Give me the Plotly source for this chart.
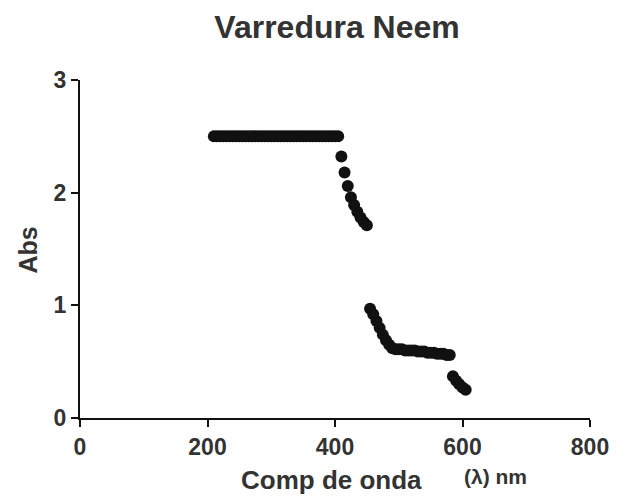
import plotly.graph_objects as go

# Wavelength (nm) and absorbance
wavelength = [
    210, 215, 220, 225, 230, 235, 240, 245, 250, 255,
    260, 265, 270, 275, 280, 285, 290, 295, 300, 305,
    310, 315, 320, 325, 330, 335, 340, 345, 350, 355,
    360, 365, 370, 375, 380, 385, 390, 395, 400, 405,
    410, 415, 420, 425, 430, 435, 440, 445, 450,
    455, 460, 465, 470, 475, 480, 485, 490, 495, 500,
    505, 510, 515, 520, 525, 530, 535, 540, 545, 550,
    555, 560, 565, 570, 575, 580,
    585, 590, 595, 600, 605,
]
absorbance = [
    2.50, 2.50, 2.50, 2.50, 2.50, 2.50, 2.50, 2.50, 2.50, 2.50,
    2.50, 2.50, 2.50, 2.50, 2.50, 2.50, 2.50, 2.50, 2.50, 2.50,
    2.50, 2.50, 2.50, 2.50, 2.50, 2.50, 2.50, 2.50, 2.50, 2.50,
    2.50, 2.50, 2.50, 2.50, 2.50, 2.50, 2.50, 2.50, 2.50, 2.50,
    2.32, 2.18, 2.06, 1.96, 1.89, 1.83, 1.78, 1.74, 1.71,
    0.97, 0.92, 0.86, 0.80, 0.74, 0.69, 0.65, 0.62, 0.61, 0.61,
    0.61, 0.60, 0.60, 0.60, 0.60, 0.59, 0.59, 0.59, 0.58, 0.58,
    0.58, 0.57, 0.57, 0.57, 0.56, 0.56,
    0.37, 0.33, 0.30, 0.27, 0.25,
]

x_ticks = [0, 200, 400, 600, 800]
y_ticks = [0, 1, 2, 3]

title_text = "Varredura Neem"
y_title = "Abs"
x_title = "Comp de onda"
x_unit = "(λ) nm"

FONT = "Liberation Sans, Arial, sans-serif"
TXT = "#333333"

fig = go.Figure()
fig.add_trace(go.Scatter(
    x=wavelength, y=absorbance, mode="markers",
    marker=dict(color="#111111", size=12, line=dict(width=0)),
    showlegend=False,
))

fig.update_layout(
    width=613, height=489,
    margin=dict(l=72, r=25, t=72, b=79),
    paper_bgcolor="white", plot_bgcolor="white",
    title=dict(text=f"<b>{title_text}</b>", xref="paper", x=0.504,
               xanchor="center", y=0.962, yanchor="middle",
               font=dict(family=FONT, size=32, color=TXT)),
    font=dict(family=FONT, color=TXT),
)
fig.update_xaxes(
    range=[0, 800], tickvals=x_ticks,
    ticktext=[f"<b>{v}</b>" for v in x_ticks],
    showline=True, linecolor="#111111", linewidth=2,
    ticks="outside", ticklen=7, tickwidth=2, tickcolor="#111111",
    showgrid=False, zeroline=False,
    tickfont=dict(family=FONT, size=23, color=TXT),
)
fig.update_yaxes(
    range=[0, 3], tickvals=y_ticks,
    ticktext=[f"<b>{v}</b>" for v in y_ticks],
    showline=True, linecolor="#111111", linewidth=2,
    ticks="outside", ticklen=7, tickwidth=2, tickcolor="#111111",
    showgrid=False, zeroline=False,
    tickfont=dict(family=FONT, size=23, color=TXT),
)

fig.add_annotation(text=f"<b>{y_title}</b>", xref="paper", yref="paper",
                   x=-0.101, y=0.497, textangle=-90, showarrow=False,
                   xanchor="center", yanchor="middle",
                   font=dict(family=FONT, size=25, color=TXT))
fig.add_annotation(text=f"<b>{x_title}</b>", xref="paper", yref="paper",
                   x=0.494, y=-0.183, showarrow=False,
                   xanchor="center", yanchor="middle",
                   font=dict(family=FONT, size=26, color=TXT))
fig.add_annotation(text=f"<b>{x_unit}</b>", xref="paper", yref="paper",
                   x=0.814, y=-0.172, showarrow=False,
                   xanchor="center", yanchor="middle",
                   font=dict(family=FONT, size=21, color=TXT))

fig.write_html("out.html")
